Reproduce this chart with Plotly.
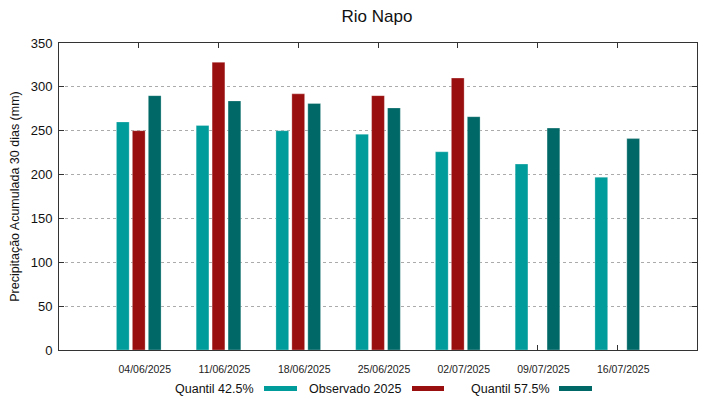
import plotly.graph_objects as go

categories = ["04/06/2025", "11/06/2025", "18/06/2025", "25/06/2025",
              "02/07/2025", "09/07/2025", "16/07/2025"]
q425 = [260, 256, 250, 246, 226, 212, 197]
observed = [250, 328, 292, 290, 310, None, None]
q575 = [290, 284, 281, 276, 266, 253, 241]

series_names = ["Quantil 42.5%", "Observado 2025", "Quantil 57.5%"]
series_colors = ["#009b9b", "#990e0e", "#006866"]
y_ticks = [0, 50, 100, 150, 200, 250, 300, 350]

# page body has an 8px default margin: compensate so the plot lands where the reference has it
OFF = 8
W, H = 719 - OFF, 399 - OFF
L, T = 59 - OFF, 43 - OFF
PW, PH = 638, 307
R = W - L - PW
B = H - T - PH
FONT = "Liberation Sans, Arial, sans-serif"


def px2x(sx):
    return (sx - 59) / PW


def px2y(sy):
    return (350 - sy) / PH


fig = go.Figure()
for name, vals, col in zip(series_names, [q425, observed, q575], series_colors):
    fig.add_trace(go.Bar(
        x=categories, y=vals, name=name,
        marker=dict(color=col, line=dict(color="rgba(255,255,255,0.35)", width=0.8)),
    ))

# custom legend: text followed by colour swatch
legend_text_right = [256, 403, 552]
legend_swatch = [(264, 297), (412, 444), (559, 592)]
annotations = []
shapes = []
for name, col, tr, (s0, s1) in zip(series_names, series_colors, legend_text_right, legend_swatch):
    annotations.append(dict(
        text=name, xref="paper", yref="paper", x=px2x(tr), y=px2y(388.5),
        xanchor="right", yanchor="middle", showarrow=False,
        font=dict(family=FONT, size=12.5, color="#111111"),
    ))
    shapes.append(dict(
        type="rect", xref="paper", yref="paper",
        x0=px2x(s0), x1=px2x(s1), y0=px2y(386), y1=px2y(391),
        fillcolor=col, line=dict(width=0),
    ))

fig.update_layout(
    width=W, height=H,
    margin=dict(l=L, r=R, t=T, b=B, autoexpand=False),
    paper_bgcolor="white", plot_bgcolor="white",
    showlegend=False,
    barmode="group", bargap=0.4, bargroupgap=0.2,
    title=dict(text="Rio Napo", x=(377 - OFF) / W, xanchor="center",
               y=1 - (16 - OFF) / H, yanchor="middle",
               font=dict(family=FONT, size=17, color="#111111")),
    font=dict(family=FONT, color="#111111"),
    annotations=annotations,
    shapes=shapes,
)
fig.update_xaxes(
    type="category", range=[-1, 7],
    showline=True, linecolor="#333333", linewidth=1, mirror="allticks",
    ticks="inside", ticklen=5, tickcolor="#333333",
    showgrid=False, layer="below traces",
    tickfont=dict(family=FONT, size=10.5, color="#222222"),
    ticklabelstandoff=9, ticklabelshift=6,
)
fig.update_yaxes(
    range=[0, 350], tickvals=y_ticks,
    showline=True, linecolor="#333333", linewidth=1, mirror="allticks",
    ticks="inside", ticklen=5, tickcolor="#333333",
    showgrid=True, gridcolor="#ababab", griddash="dot", gridwidth=1,
    zeroline=False, layer="below traces",
    tickfont=dict(family=FONT, size=13, color="#111111"),
    ticklabelstandoff=3,
    title=dict(text="Precipitação Acumulada 30 dias (mm)", standoff=8,
               font=dict(family=FONT, size=12.5, color="#111111")),
)

fig.write_html("out.html")
